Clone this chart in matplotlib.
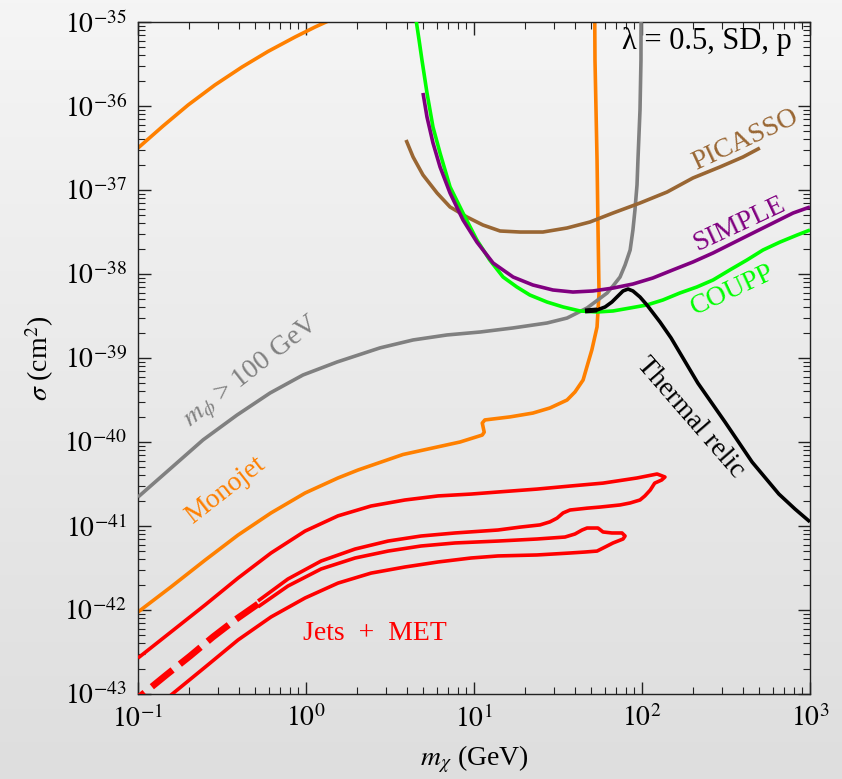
import numpy as np
import matplotlib
matplotlib.use("Agg")
import matplotlib.pyplot as plt
from matplotlib.colors import LinearSegmentedColormap
from matplotlib.ticker import FixedLocator, NullFormatter

plt.rcParams['font.family'] = ['Liberation Serif', 'DejaVu Serif']
plt.rcParams['mathtext.fontset'] = 'stix'

# ---- limits: dark matter mass (GeV) vs spin-dependent cross section (cm^2) ----

# Monojet: upper branch and lower branch of the excluded band
monojet_hi_m = [0.1, 0.141, 0.199, 0.287, 0.416, 0.594, 0.861, 1.13, 1.49]
monojet_hi_s = [3.16e-37, 5.78e-37, 1.03e-36, 1.78e-36, 2.91e-36, 4.46e-36, 6.63e-36,
                8.7e-36, 1.12e-35]
monojet_lo_m = [0.1, 0.157, 0.251, 0.394, 0.619, 0.987, 1.55, 2.04, 3.78, 8.26, 11.2,
                11.5, 11.2, 11.6, 16.4, 22.4, 28.3, 35.8, 39.9, 44.6, 47.7, 50.3, 54.0,
                55.5, 54.7, 54.0, 52.5, 52.3]
monojet_lo_s = [9.46e-43, 1.88e-42, 3.93e-42, 7.8e-42, 1.43e-41, 2.47e-41, 3.73e-41,
                4.64e-41, 7.1e-41, 1.0e-40, 1.21e-40, 1.31e-40, 1.68e-40, 1.83e-40,
                1.99e-40, 2.21e-40, 2.54e-40, 3.16e-40, 3.94e-40, 5.47e-40, 8.7e-40,
                1.25e-39, 2.34e-39, 5.94e-39, 3.63e-38, 2.28e-37, 3.53e-36, 1.2e-35]

# Mediator mass bound m_phi > 100 GeV
mphi_m = [0.1, 0.155, 0.244, 0.388, 0.611, 0.960, 1.53, 2.76, 4.34, 6.9, 10.9, 17.1,
          27.2, 35.8, 47.1, 62, 67.2, 74, 79.3, 85, 88.3, 90.8, 93.4, 94.6, 97.3, 98.6,
          98.7]
mphi_s = [2.21e-41, 4.77e-41, 1.06e-40, 2.09e-40, 3.83e-40, 6.28e-40, 8.96e-40,
          1.32e-39, 1.64e-39, 1.88e-39, 2.04e-39, 2.28e-39, 2.61e-39, 2.99e-39,
          3.94e-39, 5.94e-39, 7.2e-39, 9.2e-39, 1.28e-38, 1.93e-38, 3.34e-38,
          5.78e-38, 1.15e-37, 2.28e-37, 8.96e-37, 3.53e-36, 1.2e-35]

# COUPP
coupp_m = [4.52, 4.71, 4.9, 5.25, 5.7, 6.28, 7.2, 8.6, 10.4, 12.4, 14.9, 18.0, 21.5,
           27.2, 33.9, 42.7, 54, 67.2, 85, 107, 133, 168, 212, 265, 334, 422, 525, 663,
           838, 1000]
coupp_s = [1.06e-35, 6.1e-36, 3.53e-36, 1.43e-36, 5.62e-37, 2.75e-37, 1.09e-37,
           5.32e-38, 2.54e-38, 1.47e-38, 9.2e-39, 7.0e-39, 5.62e-39, 4.64e-39,
           4.05e-39, 3.63e-39, 3.53e-39, 3.63e-39, 3.94e-39, 4.28e-39, 4.9e-39,
           5.94e-39, 7.0e-39, 8.49e-39, 1.12e-38, 1.47e-38, 1.93e-38, 2.4e-38,
           2.91e-38, 3.34e-38]

# SIMPLE
simple_m = [4.97, 5.25, 5.7, 6.28, 7.2, 8.6, 10.4, 13.0, 17.1, 22.4, 29.5, 38.8, 51,
            67.2, 88.3, 116, 153, 201, 265, 348, 458, 603, 793, 1000]
simple_s = [1.43e-36, 7.4e-37, 3.63e-37, 1.88e-37, 9.2e-38, 4.4e-38, 2.4e-38,
            1.35e-38, 9.2e-39, 7.4e-39, 6.45e-39, 6.1e-39, 6.28e-39, 6.8e-39,
            7.6e-39, 8.96e-39, 1.12e-38, 1.39e-38, 1.78e-38, 2.34e-38, 3.08e-38,
            4.05e-38, 5.32e-38, 6.28e-38]

# PICASSO
picasso_m = [3.94, 4.34, 4.97, 6.03, 7.2, 9.08, 11.3, 14.3, 18.8, 25.7, 35.8, 49,
             67.2, 97.3, 141, 201, 291, 399, 503]
picasso_s = [3.94e-37, 2.47e-37, 1.51e-37, 9.2e-38, 6.28e-38, 4.77e-38, 3.83e-38,
             3.25e-38, 3.16e-38, 3.16e-38, 3.53e-38, 4.16e-38, 5.32e-38, 7.0e-38,
             9.46e-38, 1.39e-37, 1.88e-37, 2.47e-37, 3.16e-37]

# Thermal relic cross section
relic_m = [45.8, 54, 60.3, 66.2, 71.9, 77.1, 82.6, 88.3, 97.3, 107, 128, 149, 215, 312,
           452, 653, 815, 1000]
relic_s = [3.63e-39, 3.73e-39, 4.05e-39, 4.64e-39, 5.47e-39, 6.28e-39, 6.62e-39,
           6.28e-39, 5.32e-39, 4.28e-39, 2.68e-39, 1.73e-39, 5.03e-40, 1.73e-40,
           5.78e-41, 2.4e-41, 1.59e-41, 1.12e-41]

# Jets + MET: outer contour (upper edge, tip, returning edge)
jets_a_m = [0.1, 0.157, 0.251, 0.394, 0.619, 0.987, 1.55, 2.44, 3.88, 6.11, 9.6, 13.9,
            23.7, 37.3, 58.6, 93.4, 123, 137, 131, 119, 112, 104, 97.3, 85, 74, 56.2,
            47.1, 37.3, 33.9, 31.2, 28.3, 24.7, 18.8, 13.9, 7.71, 4.84, 3.08, 1.96,
            1.23, 0.781, 0.518]
jets_a_s = [2.68e-43, 5.47e-43, 1.15e-42, 2.4e-42, 4.77e-42, 8.7e-42, 1.32e-41,
            1.73e-41, 2.04e-41, 2.28e-41, 2.4e-41, 2.54e-41, 2.75e-41, 2.99e-41,
            3.24e-41, 3.73e-41, 4.16e-41, 3.83e-41, 3.53e-41, 3.24e-41, 2.68e-41,
            2.28e-41, 2.04e-41, 1.88e-41, 1.78e-41, 1.68e-41, 1.63e-41, 1.55e-41,
            1.43e-41, 1.24e-41, 1.12e-41, 1.03e-41, 9.7e-42, 8.96e-42, 8.26e-42,
            7.6e-42, 6.62e-42, 5.32e-42, 3.83e-42, 2.34e-42, 1.28e-42]
# Jets + MET: inner contour (lower edge with loop)
jets_b_m = [0.518, 0.781, 1.23, 1.96, 3.08, 4.84, 7.71, 13.9, 23.7, 34.8, 39.9, 44,
            47.1, 54.7, 58.6, 66.2, 76, 79.3, 77.1, 67.2, 60.3, 54, 45.8, 37.3, 23.7,
            13.9, 9.6, 6.11, 3.88, 2.44, 1.55, 0.987, 0.619, 0.394, 0.251, 0.157,
            0.145]
jets_b_s = [1.09e-42, 1.93e-42, 3.08e-42, 4.16e-42, 5.03e-42, 5.78e-42, 6.28e-42,
            6.62e-42, 7.0e-42, 7.39e-42, 8.03e-42, 8.96e-42, 9.46e-42, 9.46e-42,
            8.49e-42, 8.26e-42, 8.26e-42, 7.6e-42, 7.0e-42, 6.28e-42, 5.62e-42,
            5.03e-42, 4.9e-42, 4.77e-42, 4.52e-42, 4.4e-42, 4.16e-42, 3.73e-42,
            3.25e-42, 2.75e-42, 2.09e-42, 1.39e-42, 8.26e-43, 4.4e-43, 2.09e-43,
            9.7e-44, 8.5e-44]
# Jets + MET: merged edge at low mass
jets_c_m = [0.518, 0.378, 0.279, 0.204, 0.147, 0.1, 0.095]
jets_c_s = [1.18e-42, 7.6e-43, 4.77e-43, 2.83e-43, 1.68e-43, 8.96e-44, 8.0e-44]

xticks = [0.1, 1, 10, 100, 1000]
xtick_labels = [r'$10^{-1}$', r'$10^{0}$', r'$10^{1}$', r'$10^{2}$', r'$10^{3}$']
yticks = [1e-43, 1e-42, 1e-41, 1e-40, 1e-39, 1e-38, 1e-37, 1e-36, 1e-35]
ytick_labels = [r'$10^{-43}$', r'$10^{-42}$', r'$10^{-41}$', r'$10^{-40}$',
                r'$10^{-39}$', r'$10^{-38}$', r'$10^{-37}$', r'$10^{-36}$',
                r'$10^{-35}$']

ORANGE = '#ff8000'
GRAY = '#808080'
GREEN = '#00ff00'
PURPLE = '#800080'
BROWN = '#996633'
RED = '#ff0000'

fig = plt.figure(figsize=(8.42, 7.79), dpi=100)

# soft vertical gradient behind everything
bg = fig.add_axes([0, 0, 1, 1], zorder=-10)
grad = np.linspace(0, 1, 256).reshape(-1, 1)
bg.imshow(grad, aspect='auto', extent=[0, 1, 0, 1], origin='upper',
          cmap=LinearSegmentedColormap.from_list('bg', ['#f5f5f5', '#dedede']))
bg.axis('off')

ax = fig.add_axes([138 / 842, 1 - 694 / 779, 672 / 842, 672 / 779])
ax.patch.set_alpha(0)
ax.set_xscale('log')
ax.set_yscale('log')
ax.set_xlim(0.1, 1000)
ax.set_ylim(1e-43, 1e-35)

lw = 2.6
kw = dict(solid_capstyle='butt', solid_joinstyle='round')
ax.plot(monojet_hi_m, monojet_hi_s, color=ORANGE, lw=lw, zorder=2, **kw)
ax.plot(monojet_lo_m, monojet_lo_s, color=ORANGE, lw=lw, zorder=2, **kw)
ax.plot(mphi_m, mphi_s, color=GRAY, lw=lw, zorder=3, **kw)
ax.plot(jets_a_m, jets_a_s, color=RED, lw=lw, zorder=3, **kw)
ax.plot(jets_b_m, jets_b_s, color=RED, lw=lw, zorder=3, **kw)
ax.plot(jets_c_m, jets_c_s, color=RED, lw=4.8, zorder=3, dashes=(4.0, 1.4),
        dash_capstyle='butt')
ax.plot(picasso_m, picasso_s, color=BROWN, lw=lw, zorder=4, **kw)
ax.plot(coupp_m, coupp_s, color=GREEN, lw=lw, zorder=4, **kw)
ax.plot(simple_m, simple_s, color=PURPLE, lw=lw, zorder=5, **kw)
ax.plot(relic_m, relic_s, color='black', lw=lw, zorder=6, **kw)
ax.plot(relic_m[:2], relic_s[:2], color='black', lw=3.6, zorder=6,
        solid_capstyle='butt')

# axes frame and ticks
for sp in ax.spines.values():
    sp.set_linewidth(1.0)
    sp.set_color('#222222')
ax.xaxis.set_major_locator(FixedLocator(xticks))
ax.yaxis.set_major_locator(FixedLocator(yticks))
ax.set_xticklabels(xtick_labels)
ax.set_yticklabels(ytick_labels)
xminor = [k * 10.0 ** e for e in range(-1, 3) for k in range(2, 10)]
yminor = [k * 10.0 ** e for e in range(-43, -35) for k in range(2, 10)]
ax.xaxis.set_minor_locator(FixedLocator(xminor))
ax.yaxis.set_minor_locator(FixedLocator(yminor))
ax.xaxis.set_minor_formatter(NullFormatter())
ax.yaxis.set_minor_formatter(NullFormatter())
ax.tick_params(which='both', direction='in', top=True, right=True, color='#222222',
               labelsize=20)
ax.tick_params(which='major', length=9, width=1.0, pad=8)
ax.tick_params(which='minor', length=5, width=0.8)

ax.set_xlabel(r'$m_\chi$ (GeV)', fontsize=20, labelpad=8)
ax.set_ylabel(r'$\sigma$ (cm$^2$)', fontsize=20, labelpad=6)

def label(px, py, s, color, rot, size=20):
    ax.text((px - 138) / 672, (694 - py) / 672, s, color=color, rotation=rot,
            fontsize=size, ha='center', va='center', transform=ax.transAxes,
            rotation_mode='anchor', zorder=7)

label(707, 42, 'λ = 0.5, SD, p', 'black', 0, size=22)
label(745, 140, 'PICASSO', BROWN, 25)
label(739, 224, 'SIMPLE', PURPLE, 25)
label(733, 290, 'COUPP', GREEN, 25)
label(690, 418, 'Thermal relic', 'black', -49)
label(252, 372, r'$m_\phi$ > 100 GeV', GRAY, 38)
label(225, 490, 'Monojet', ORANGE, 38)
label(375, 633, 'Jets  +  MET', RED, 0)

fig.savefig('out.png', dpi=100)
